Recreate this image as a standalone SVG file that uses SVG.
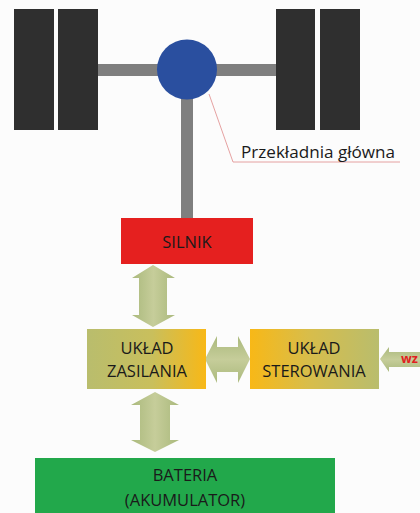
<svg xmlns="http://www.w3.org/2000/svg" width="420" height="513" viewBox="0 0 420 513">
<defs>
<style>
.wheel{fill:#2f2f2f}
.axle{fill:#7f7f7f}
.arrow{fill:url(#ag)}
.arrowh{fill:url(#agh)}
.lbl{font-family:"Open Sans","Liberation Sans",sans-serif;font-size:16.5px;fill:#1a1a1a;text-anchor:middle}
</style>
<linearGradient id="ag" x1="0" y1="0" x2="1" y2="0">
<stop offset="0" stop-color="#aab97c"/><stop offset="0.5" stop-color="#c6cd9a"/><stop offset="1" stop-color="#aab97c"/>
</linearGradient>
<linearGradient id="agh" x1="0" y1="0" x2="0" y2="1">
<stop offset="0" stop-color="#aab97c"/><stop offset="0.5" stop-color="#c6cd9a"/><stop offset="1" stop-color="#aab97c"/>
</linearGradient>
<linearGradient id="gz" x1="0" y1="0" x2="1" y2="0">
<stop offset="0" stop-color="#b9bd6d"/><stop offset="0.55" stop-color="#c9bf5c"/><stop offset="1" stop-color="#f8b817"/>
</linearGradient>
<linearGradient id="gs" x1="0" y1="0" x2="1" y2="0">
<stop offset="0" stop-color="#f8b817"/><stop offset="0.45" stop-color="#d8bd4a"/><stop offset="1" stop-color="#b9bd6d"/>
</linearGradient>
</defs>
<rect width="420" height="513" fill="#fcfcfc"/>
<g id="chassis">
<rect class="axle" x="98" y="64" width="178" height="12"/>
<rect class="axle" x="181" y="80" width="12" height="138"/>
</g>
<g id="wheel-left">
<rect class="wheel" x="14" y="9" width="40" height="121"/>
<rect class="wheel" x="58" y="9" width="40" height="121"/>
</g>
<g id="wheel-right">
<rect class="wheel" x="276" y="9" width="39" height="121"/>
<rect class="wheel" x="320" y="9" width="40" height="121"/>
</g>
<g id="przekladnia">
<circle cx="187" cy="69.5" r="30" fill="#2a4f9f"/>
</g>
<g id="connectors">
<polyline points="209,94 233,162 400,162" fill="none" stroke="#e08a8a" stroke-width="0.8"/>
<polygon class="arrow" points="153,265 175,278 167,278 167,315 175,315 153,327 132,315 139,315 139,278 132,278"/>
<polygon class="arrow" points="155,392 179,405 170,405 170,440 179,440 155,452 131,440 140,440 140,405 131,405"/>
<polygon class="arrowh" points="205,359 217,336 217,347 238,347 238,336 250,359 238,383 238,372 217,372 217,383"/>
<polygon class="arrowh" points="380,359 389,347 389,352 420,352 420,367 389,367 389,372"/>
</g>
<g id="label-przekladnia">
<text x="241" y="158" font-family="'Open Sans','Liberation Sans',sans-serif" font-size="15.5" fill="#1a1a1a" textLength="154" lengthAdjust="spacingAndGlyphs">Przekładnia główna</text>
</g>
<g id="silnik">
<rect x="121" y="218" width="132" height="46" fill="#e5201f"/>
<text class="lbl" x="187" y="248" font-size="16">SILNIK</text>
</g>
<g id="uklad-zasilania">
<rect x="87" y="329" width="119" height="60" fill="url(#gz)"/>
<text class="lbl" x="147" y="354">UKŁAD</text>
<text class="lbl" x="147" y="377">ZASILANIA</text>
</g>
<g id="uklad-sterowania">
<rect x="250" y="329" width="129" height="60" fill="url(#gs)"/>
<text class="lbl" x="314" y="354">UKŁAD</text>
<text class="lbl" x="314" y="377">STEROWANIA</text>
</g>
<g id="wz">
<text x="401" y="363" font-family="'Open Sans','Liberation Sans',sans-serif" font-size="12.5" font-weight="bold" fill="#e02020">wz</text>
</g>
<g id="bateria">
<rect x="35" y="458" width="300" height="55" fill="#22a84b"/>
<text class="lbl" x="185" y="481">BATERIA</text>
<text class="lbl" x="185" y="506">(AKUMULATOR)</text>
</g>
</svg>
